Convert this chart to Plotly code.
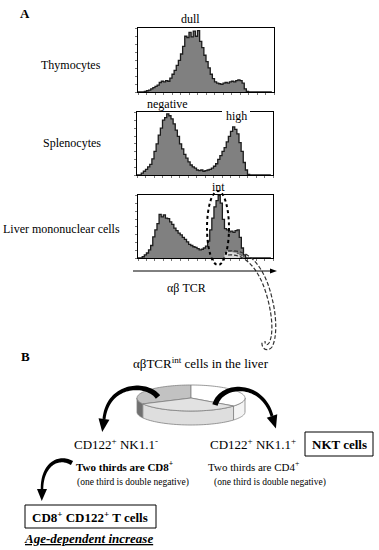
import numpy as np
import plotly.graph_objects as go

W, H = 379, 550
FONT = "Liberation Serif, Times New Roman, serif"

# ---------------- data ----------------
channels = list(range(64))
thymocytes = [0, 0, 0, 1, 2, 3, 5, 7, 9, 11, 15, 17, 16, 18, 17, 22, 28, 34, 42, 50,
              60, 72, 88, 86, 94, 87, 96, 88, 97, 80, 70, 58, 48, 38, 28, 21, 16, 14, 13, 12,
              14, 15, 14, 16, 17, 16, 18, 19, 18, 14, 5, 1] + [0] * 12
splenocytes = [0, 0, 3, 6, 9, 13, 17, 26, 38, 50, 64, 75, 88, 92, 98, 95, 90, 82, 72, 62,
               50, 42, 33, 27, 21, 16, 13, 11, 8, 7, 8, 6, 7, 8, 9, 11, 14, 18, 25, 31,
               38, 44, 53, 62, 70, 77, 73, 66, 52, 38, 20, 8, 1] + [0] * 11
liver = [0, 0, 2, 5, 8, 13, 20, 34, 45, 55, 70, 66, 69, 64, 63, 58, 54, 48, 44, 40,
         37, 33, 30, 26, 22, 20, 18, 17, 15, 13, 14, 16, 19, 27, 45, 64, 82, 92, 100, 88,
         62, 47, 45, 42, 43, 41, 44, 45, 33, 16, 5, 0] + [0] * 12
int_subset_channels = list(range(41, 51))
int_subset = [9, 11, 11, 10, 10, 9, 7, 5, 3, 1]

panel_names = ["Thymocytes", "Splenocytes", "Liver mononuclear cells"]
axis_title = "αβ TCR"
# ring segments (start angle, end angle in degrees, colour)
ring_segments = [(90, 207, "#c2c2c2"), (-38, 90, "#ffffff"), (207, 322, "#e2e2e2")]
ring_side = [(180, 207, "#707070"), (207, 322, "#dedede"), (322, 360, "#f4f4f4")]

# ---------------- layout helpers ----------------
def dom(x0, x1, y0, y1):
    return [x0 / W, x1 / W], [1 - y1 / H, 1 - y0 / H]

panel_boxes = [(138, 274, 28, 92), (137, 273, 112, 175), (138, 273, 195, 258)]

fig = go.Figure()
hist_sets = [thymocytes, splenocytes, liver]
for i, vals in enumerate(hist_sets):
    ax = "" if i == 0 else str(i + 1)
    fig.add_trace(go.Scatter(
        x=channels, y=vals, mode="lines", fill="tozeroy", line_shape="hv",
        fillcolor="#808080", line=dict(color="#1c1c1c", width=1.3),
        xaxis="x" + ax, yaxis="y" + ax, hoverinfo="skip", showlegend=False))
    xd, yd = dom(*panel_boxes[i])
    axcommon = dict(showline=True, mirror=True, linecolor="black", linewidth=1,
                    showgrid=False, zeroline=False, showticklabels=False,
                    ticks="outside", ticklen=2, tickcolor="#777", fixedrange=True)
    fig.update_layout(**{
        "xaxis" + ax: dict(domain=xd, range=[0, 64], dtick=4, anchor="y" + ax, **axcommon),
        "yaxis" + ax: dict(domain=yd, range=[0, 101], dtick=12.5, anchor="x" + ax, **axcommon),
    })

# light grey int subset in the liver panel
fig.add_trace(go.Scatter(
    x=int_subset_channels, y=int_subset, mode="lines", fill="tozeroy", line_shape="hv",
    fillcolor="#d9d9d9", line=dict(color="#555", width=1, dash="3px,2px"),
    xaxis="x3", yaxis="y3", hoverinfo="skip", showlegend=False))

# overlay pixel axis
fig.add_trace(go.Scatter(x=[0], y=[0], mode="markers", marker=dict(opacity=0),
                         xaxis="x4", yaxis="y4", hoverinfo="skip", showlegend=False))
fig.update_layout(
    xaxis4=dict(domain=[0, 1], range=[0, W], visible=False, fixedrange=True, anchor="y4"),
    yaxis4=dict(domain=[0, 1], range=[H, 0], visible=False, fixedrange=True, anchor="x4"),
)

shapes = []
P = dict(xref="x4", yref="y4")

def path_from(pts, close=True):
    s = "M " + " L ".join(f"{x:.2f},{y:.2f}" for x, y in pts)
    return s + (" Z" if close else "")

def bez(p0, p1, p2, p3, n=40):
    t = np.linspace(0, 1, n)[:, None]
    p0, p1, p2, p3 = map(np.array, (p0, p1, p2, p3))
    return (1 - t) ** 3 * p0 + 3 * (1 - t) ** 2 * t * p1 + 3 * (1 - t) * t ** 2 * p2 + t ** 3 * p3

def tapered_arrow(p0, p1, p2, p3, w0, w1, head_len, head_w):
    c = bez(p0, p1, p2, p3)
    d = np.gradient(c, axis=0)
    d /= np.linalg.norm(d, axis=1)[:, None]
    nrm = np.stack([-d[:, 1], d[:, 0]], axis=1)
    w = np.linspace(w0, w1, len(c))[:, None] / 2
    left = c + nrm * w
    right = c - nrm * w
    body = list(map(tuple, left)) + list(map(tuple, right[::-1]))
    u = d[-1]
    base = c[-1]
    n_ = np.array([-u[1], u[0]])
    tip = base + u * head_len
    head = [tuple(base + n_ * head_w / 2), tuple(tip), tuple(base - n_ * head_w / 2)]
    return [
        dict(type="path", path=path_from(body), fillcolor="black", line=dict(width=0), **P),
        dict(type="path", path=path_from(head), fillcolor="black", line=dict(width=0), **P),
    ]

# gap in the splenocyte top border for "high"
shapes.append(dict(type="line", x0=222, x1=250, y0=112, y1=112,
                   line=dict(color="white", width=3), **P))
# dotted ellipse around int peak
shapes.append(dict(type="circle", x0=207, x1=229, y0=191, y1=265,
                   line=dict(color="black", width=2, dash="dot"), **P))
# double dashed connector
shapes.append(dict(type="path",
                   path="M 228,251 C 252,248 266,272 272,298 C 277,318 277,338 272,347 C 268,352 261,350 262,341",
                   line=dict(color="#333", width=1.2, dash="4px,2px"), **P))
shapes.append(dict(type="path",
                   path="M 228,255 C 249,253 262,276 268,300 C 273,320 273,336 269,343 C 267,346 265,345 265,341",
                   line=dict(color="#333", width=1.2, dash="4px,2px"), **P))
# x axis arrow
shapes.append(dict(type="line", x0=133, x1=271, y0=271, y1=271,
                   line=dict(color="black", width=1), **P))
shapes.append(dict(type="path", path="M 270,268.5 L 277,271 L 270,273.5 Z",
                   fillcolor="black", line=dict(width=0), **P))

# ring
cx, cy, rx, ry, hh = 191, 398, 54, 13, 14

def ell(t_deg, dy=0):
    t = np.radians(t_deg)
    return (cx + rx * np.cos(t), cy - ry * np.sin(t) + dy)

for a, b, col in ring_side:
    ts = np.linspace(a, b, 40)
    pts = [ell(t) for t in ts] + [ell(t, hh) for t in ts[::-1]]
    shapes.append(dict(type="path", path=path_from(pts), fillcolor=col,
                       line=dict(color="#808080", width=0.8), **P))
for a, b, col in ring_segments:
    ts = np.linspace(a, b, 60)
    pts = [(cx, cy)] + [ell(t) for t in ts]
    shapes.append(dict(type="path", path=path_from(pts), fillcolor=col,
                       line=dict(color="#808080", width=0.8), **P))

# curved arrows
shapes += tapered_arrow((158, 397), (147, 382), (108, 383), (104, 419), 5.5, 3.0, 13, 11)
shapes += tapered_arrow((215, 405), (221, 383), (262, 381), (272, 416), 5.5, 3.0, 13, 11)
shapes += tapered_arrow((72, 463), (58, 455), (42, 465), (42, 489), 4.5, 2.5, 12, 10)

# boxes
shapes.append(dict(type="rect", x0=305, x1=373, y0=432, y1=456,
                   line=dict(color="black", width=1), **P))
shapes.append(dict(type="rect", x0=25, x1=156, y0=505, y1=528,
                   line=dict(color="black", width=1), **P))

fig.update_layout(shapes=shapes)

# ---------------- text ----------------
def txt(x, y, s, size=12, **kw):
    d = dict(x=x, y=y, text=s, showarrow=False, xref="x4", yref="y4",
             font=dict(family=FONT, size=size, color="black"), xanchor="center", yanchor="middle")
    d.update(kw)
    return d

annotations = [
    txt(25, 13, "<b>A</b>", 13),
    txt(190, 19, "dull", 12),
    txt(71, 65, panel_names[0], 12),
    txt(167, 104, "negative", 12),
    txt(236, 116, "high", 12),
    txt(72, 143, panel_names[1], 12),
    txt(218, 187, "int", 12),
    txt(61, 229, panel_names[2], 12),
    txt(186, 288, axis_title, 12),
    txt(25, 356, "<b>B</b>", 13),
    txt(201, 363, "αβTCR<sup>int</sup> cells in the liver", 13),
    txt(116, 444, "CD122<sup>+</sup> NK1.1<sup>-</sup>", 13),
    txt(253, 444, "CD122<sup>+</sup> NK1.1<sup>+</sup>", 13),
    txt(339, 444, "<b>NKT cells</b>", 13),
    txt(124, 466, "<b>Two thirds are CD8<sup>+</sup></b>", 11),
    txt(133, 482, "(one third is double negative)", 9.5),
    txt(253, 466, "Two thirds are CD4<sup>+</sup>", 11),
    txt(270, 482, "(one third is double negative)", 9.5),
    txt(90, 517, "<b>CD8<sup>+</sup> CD122<sup>+</sup> T cells</b>", 13),
    txt(88, 538, "<b><i><u>Age-dependent increase</u></i></b>", 13),
]

fig.update_layout(
    annotations=annotations,
    width=W, height=H, margin=dict(l=0, r=0, t=0, b=0),
    paper_bgcolor="white", plot_bgcolor="rgba(0,0,0,0)",
    showlegend=False,
)

fig.write_html("out.html", config={"displayModeBar": False},
               post_script="document.body.style.margin='0px';document.body.style.overflow='hidden';")
